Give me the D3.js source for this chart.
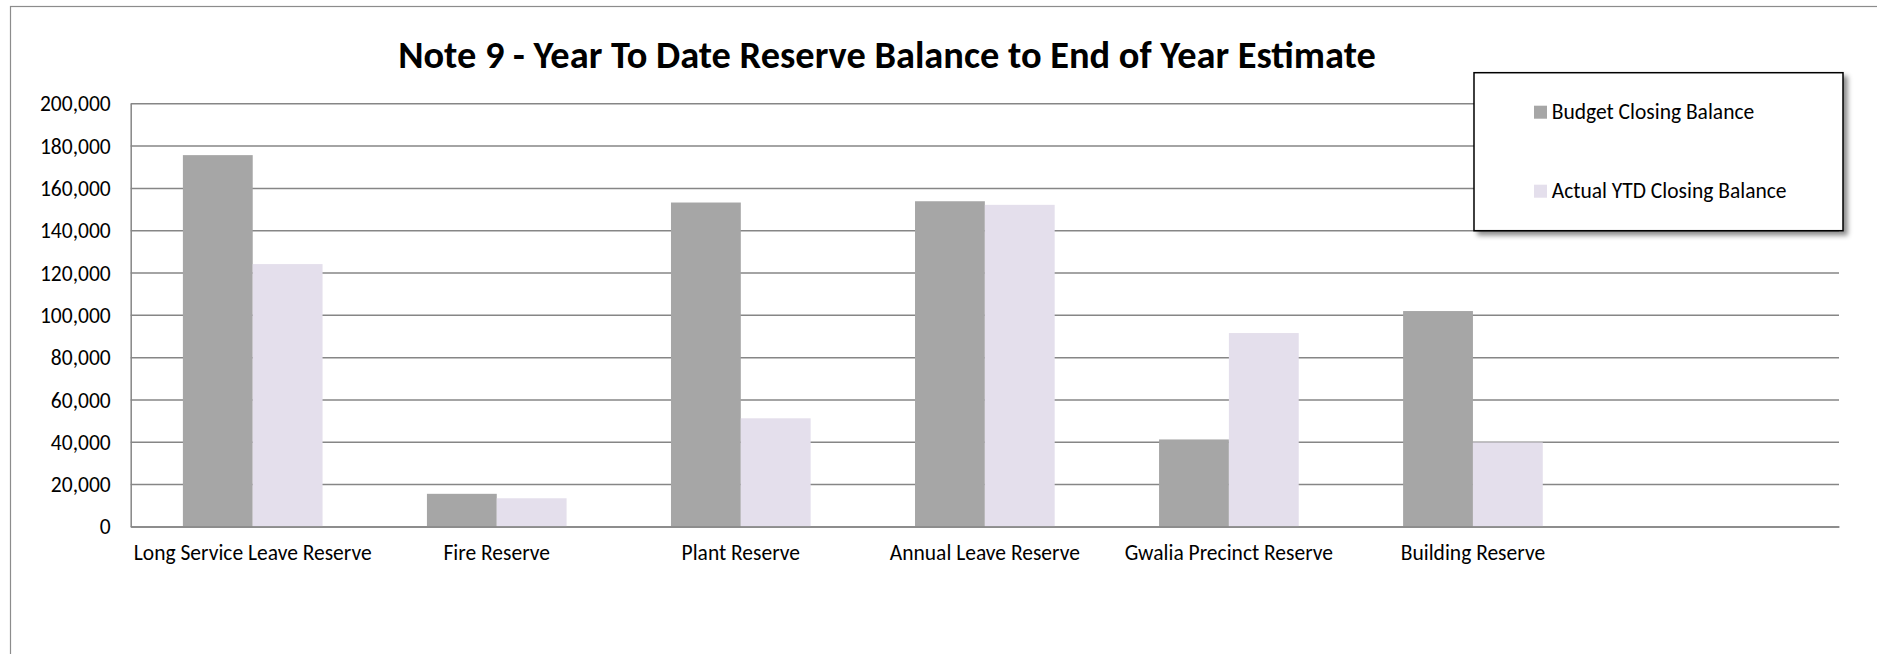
<!DOCTYPE html>
<html>
<head>
<meta charset="utf-8">
<script src="https://cdn.jsdelivr.net/npm/d3@7"></script>
<style>
  body { margin: 0; background: #fff; }
  svg { display: block; }
  .label { font-family: Calibri, Carlito, "Open Sans", sans-serif; fill: #000; }
</style>
</head>
<body>
<svg id="chart" width="1877" height="654"></svg>
<script>
'use strict'

const categories = ['Long Service Leave Reserve', 'Fire Reserve', 'Plant Reserve', 'Annual Leave Reserve',
  'Gwalia Precinct Reserve', 'Building Reserve', '']
const seriesNames = ['Budget Closing Balance', 'Actual YTD Closing Balance']
const budgetValues = [175500, 15400, 153100, 153700, 41100, 101800, null]
const actualValues = [124000, 13300, 51100, 152000, 91400, 39700, null]
const yTicks = [0, 20000, 40000, 60000, 80000, 100000, 120000, 140000, 160000, 180000, 200000]
const seriesColors = ['#a6a6a6', '#e4dfec']

const svg = d3.select('#chart')
const plot = { left: 130.7, right: 1839, top: 103.3, bottom: 526.4 }
const fontSize = 21.5

// chart frame, only the left and top edges show in the picture
svg.append('rect')
  .attr('x', 10.5).attr('y', 6.5)
  .attr('width', 1900).attr('height', 700)
  .attr('fill', '#fff')
  .attr('stroke', '#8c8c8c').attr('stroke-width', 1.2)

const gap = 104.4 / 244.1
const x = d3.scaleBand()
  .domain(categories.map((c, i) => i))
  .range([plot.left, plot.right])
  .paddingInner(gap)
  .paddingOuter(gap / 2)

const xSeries = d3.scaleBand()
  .domain([0, 1])
  .range([0, x.bandwidth()])

const y = d3.scaleLinear()
  .domain([0, 200000])
  .range([plot.bottom, plot.top])

// gridlines + y labels
const yAxis = svg.append('g')
  .attr('transform', `translate(${plot.left},0)`)
  .call(d3.axisLeft(y)
    .tickValues(yTicks)
    .tickFormat(d3.format(','))
    .tickSizeInner(-(plot.right - plot.left))
    .tickSizeOuter(0)
    .tickPadding(20))
yAxis.select('.domain').attr('stroke', '#868686').attr('stroke-width', 1.5)
yAxis.selectAll('.tick line').attr('stroke', '#868686').attr('stroke-width', 1.5)
yAxis.selectAll('.tick text')
  .attr('class', 'label')
  .style('font-size', fontSize + 'px')
  .attr('dy', '0.35em')

// bars
const rows = categories.map((c, i) => ({ i, values: [budgetValues[i], actualValues[i]] }))
svg.append('g').selectAll('g')
  .data(rows)
  .join('g')
  .attr('transform', d => `translate(${x(d.i)},0)`)
  .selectAll('rect')
  .data(d => d.values.map((v, s) => ({ v, s })).filter(d => d.v !== null))
  .join('rect')
  .attr('x', d => xSeries(d.s))
  .attr('width', xSeries.bandwidth())
  .attr('y', d => y(d.v))
  .attr('height', d => y(0) - y(d.v))
  .attr('fill', d => seriesColors[d.s])

// baseline + category labels
const xAxis = svg.append('g')
  .attr('transform', `translate(0,${plot.bottom})`)
  .call(d3.axisBottom(x).tickFormat(i => categories[i]).tickSize(0).tickPadding(18))
xAxis.select('.domain').attr('stroke', '#868686').attr('stroke-width', 1.5)
xAxis.selectAll('.tick text')
  .attr('class', 'label')
  .style('font-size', fontSize + 'px')

// title
svg.append('text')
  .attr('class', 'label')
  .attr('x', 887).attr('y', 68)
  .attr('text-anchor', 'middle')
  .style('font-size', '38.4px')
  .style('font-weight', 'bold')
  .text('Note 9 - Year To Date Reserve Balance to End of Year Estimate')

// legend with drop shadow
const defs = svg.append('defs')
const shadow = defs.append('filter').attr('id', 'shadow')
  .attr('x', '-10%').attr('y', '-10%').attr('width', '130%').attr('height', '130%')
shadow.append('feDropShadow')
  .attr('dx', 4).attr('dy', 4).attr('stdDeviation', 2.5)
  .attr('flood-color', '#000').attr('flood-opacity', 0.45)

const legend = svg.append('g').attr('transform', 'translate(1474,72.7)')
legend.append('rect')
  .attr('width', 369).attr('height', 158)
  .attr('fill', '#fff')
  .attr('stroke', '#000').attr('stroke-width', 1.5)
  .attr('filter', 'url(#shadow)')

const legendItems = legend.selectAll('g.item')
  .data(seriesNames)
  .join('g')
  .attr('class', 'item')
  .attr('transform', (d, i) => `translate(60,${33 + i * 79})`)
legendItems.append('rect')
  .attr('width', 13).attr('height', 13)
  .attr('fill', (d, i) => seriesColors[i])
legendItems.append('text')
  .attr('class', 'label')
  .attr('x', 17.7).attr('y', 13.5)
  .style('font-size', fontSize + 'px')
  .text(d => d)
</script>
</body>
</html>
